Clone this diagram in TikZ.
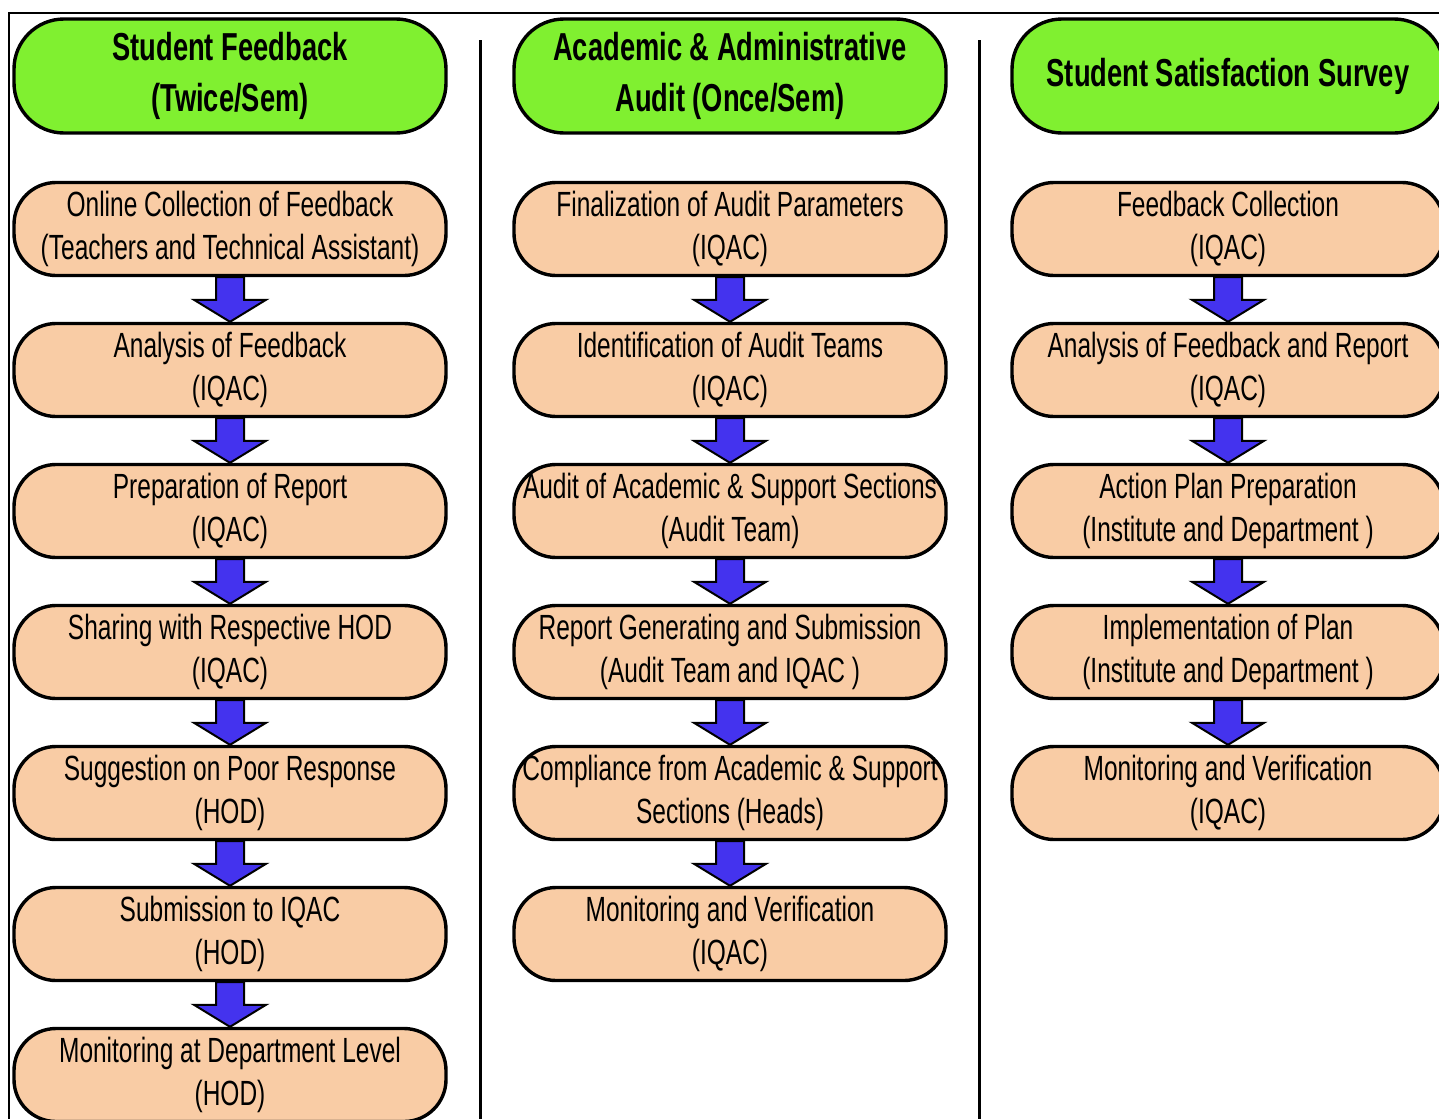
\documentclass[tikz,border=0pt]{standalone}
\usepackage{fontspec}
\setmainfont[FakeStretch=0.7]{Liberation Sans}
\usetikzlibrary{calc}
\definecolor{headgreen}{HTML}{80F030}
\definecolor{stagepeach}{HTML}{F9CCA5}
\definecolor{flowblue}{HTML}{4433EE}
\tikzset{
  headbox/.style={draw, line width=1.7pt, fill=headgreen, rounded corners=25pt, minimum width=216pt, minimum height=57pt, inner sep=0pt, align=center, font=\fontsize{19.5}{25.5}\selectfont\bfseries},
  stagebox/.style={draw, line width=1.7pt, fill=stagepeach, rounded corners=21pt, minimum width=216pt, minimum height=46.5pt, inner sep=0pt, align=center, font=\fontsize{17.5}{21.5}\selectfont},
  flow/.style={draw, line width=1pt, line join=miter, fill=flowblue, to path={let \p1=(\tikztostart), \p2=(\tikztotarget) in (\x1-7pt,\y1) -- (\x1+7pt,\y1) -- (\x1+7pt,\y2+11pt) -- (\x1+18pt,\y2+11pt) -- (\x2,\y2) -- (\x1-18pt,\y2+11pt) -- (\x1-7pt,\y2+11pt) -- cycle}}
}
\begin{document}
\begin{tikzpicture}[x=0.5pt,y=-0.5pt]
\useasboundingbox (0,0) rectangle (1439,1119);
% frame and column rules
\draw[line width=1pt] (1439,13) -- (9,13) -- (9,1119);
\draw[line width=1.5pt] (480,40) -- (480,1119);
\draw[line width=1.5pt] (979,40) -- (979,1119);
% student feedback
\node[headbox] (sf) at (230,76) {Student Feedback\\(Twice/Sem)};
\node[stagebox] (sf1) at (230,229) {Online Collection of Feedback\\(Teachers and Technical Assistant)};
\node[stagebox] (sf2) at (230,370) {Analysis of Feedback\\(IQAC)};
\node[stagebox] (sf3) at (230,511) {Preparation of Report\\(IQAC)};
\node[stagebox] (sf4) at (230,652) {Sharing with Respective HOD\\(IQAC)};
\node[stagebox] (sf5) at (230,793) {Suggestion on Poor Response\\(HOD)};
\node[stagebox] (sf6) at (230,934) {Submission to IQAC\\(HOD)};
\node[stagebox] (sf7) at (230,1075) {Monitoring at Department Level\\(HOD)};
\draw[flow] (sf1.south) to (sf2.north);
\draw[flow] (sf2.south) to (sf3.north);
\draw[flow] (sf3.south) to (sf4.north);
\draw[flow] (sf4.south) to (sf5.north);
\draw[flow] (sf5.south) to (sf6.north);
\draw[flow] (sf6.south) to (sf7.north);
% audit
\node[headbox] (au) at (730,76) {Academic \& Administrative\\Audit (Once/Sem)};
\node[stagebox] (au1) at (730,229) {Finalization of Audit Parameters\\(IQAC)};
\node[stagebox] (au2) at (730,370) {Identification of Audit Teams\\(IQAC)};
\node[stagebox] (au3) at (730,511) {Audit of Academic \& Support Sections\\(Audit Team)};
\node[stagebox] (au4) at (730,652) {Report Generating and Submission\\(Audit Team and IQAC )};
\node[stagebox] (au5) at (730,793) {Compliance from Academic \& Support\\Sections (Heads)};
\node[stagebox] (au6) at (730,934) {Monitoring and Verification\\(IQAC)};
\draw[flow] (au1.south) to (au2.north);
\draw[flow] (au2.south) to (au3.north);
\draw[flow] (au3.south) to (au4.north);
\draw[flow] (au4.south) to (au5.north);
\draw[flow] (au5.south) to (au6.north);
% satisfaction survey
\node[headbox] (ss) at (1228,76) {Student Satisfaction Survey};
\node[stagebox] (ss1) at (1228,229) {Feedback Collection\\(IQAC)};
\node[stagebox] (ss2) at (1228,370) {Analysis of Feedback and Report\\(IQAC)};
\node[stagebox] (ss3) at (1228,511) {Action Plan Preparation\\(Institute and Department )};
\node[stagebox] (ss4) at (1228,652) {Implementation of Plan\\(Institute and Department )};
\node[stagebox] (ss5) at (1228,793) {Monitoring and Verification\\(IQAC)};
\draw[flow] (ss1.south) to (ss2.north);
\draw[flow] (ss2.south) to (ss3.north);
\draw[flow] (ss3.south) to (ss4.north);
\draw[flow] (ss4.south) to (ss5.north);
\end{tikzpicture}
\end{document}
